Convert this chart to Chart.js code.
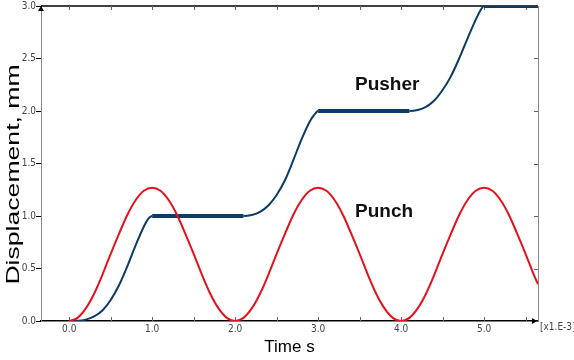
<!DOCTYPE html>
<html>
<head>
<meta charset="utf-8">
<script src="https://cdn.jsdelivr.net/npm/chart.js@4.4.1/dist/chart.umd.min.js"></script>
<style>
  html, body { margin: 0; padding: 0; background: #fff; }
  #wrap { width: 574px; height: 360px; }
</style>
</head>
<body>
<div id="wrap"><canvas id="disp-chart"></canvas></div>
<script>
// values (time in 1e-3 s, displacement in mm)
const punchTime = [0, 0.1, 0.2, 0.3, 0.4, 0.5, 0.6, 0.7, 0.8, 0.9, 1.0, 1.1, 1.2, 1.3, 1.4, 1.5, 1.6, 1.7, 1.8, 1.9,
  2.0, 2.1, 2.2, 2.3, 2.4, 2.5, 2.6, 2.7, 2.8, 2.9, 3.0, 3.1, 3.2, 3.3, 3.4, 3.5, 3.6, 3.7, 3.8, 3.9,
  4.0, 4.1, 4.2, 4.3, 4.4, 4.5, 4.6, 4.7, 4.8, 4.9, 5.0, 5.1, 5.2, 5.3, 5.4, 5.5, 5.6, 5.65];
const punchDisp = [0, 0.03, 0.12, 0.26, 0.44, 0.64, 0.83, 1.01, 1.15, 1.24, 1.27, 1.24, 1.15, 1.01, 0.83, 0.64, 0.44, 0.26, 0.12, 0.03,
  0, 0.03, 0.12, 0.26, 0.44, 0.64, 0.83, 1.01, 1.15, 1.24, 1.27, 1.24, 1.15, 1.01, 0.83, 0.64, 0.44, 0.26, 0.12, 0.03,
  0, 0.03, 0.12, 0.26, 0.44, 0.64, 0.83, 1.01, 1.15, 1.24, 1.27, 1.24, 1.15, 1.01, 0.83, 0.64, 0.44, 0.35];

const pusherTime = [0, 0.1, 0.2, 0.3, 0.4, 0.5, 0.6, 0.7, 0.8, 0.9, 0.95, 1.0,
  2.1, 2.2, 2.3, 2.4, 2.5, 2.6, 2.7, 2.8, 2.9, 2.95, 3.0,
  4.1, 4.2, 4.3, 4.4, 4.5, 4.6, 4.7, 4.8, 4.9, 4.95, 5.0, 5.65];
const pusherDisp = [0, 0.002, 0.013, 0.043, 0.1, 0.2, 0.34, 0.52, 0.72, 0.9, 0.97, 1.0,
  1.0, 1.01, 1.04, 1.1, 1.2, 1.34, 1.53, 1.73, 1.9, 1.96, 2.0,
  2.0, 2.01, 2.04, 2.1, 2.2, 2.33, 2.5, 2.69, 2.87, 2.95, 3.0, 3.0];

const yTicks = [0, 0.5, 1.0, 1.5, 2.0, 2.5, 3.0];
const xLabels = ['0.0', '1.0', '2.0', '3.0', '4.0', '5.0'];

const toXY = (xs, ys) => xs.map((x, i) => ({ x, y: ys[i] }));

// frame, inner ticks and the free text on the plot
const framePlugin = {
  id: 'frame',
  beforeDatasetsDraw(chart) {
    const { ctx, chartArea: a, scales: { x, y } } = chart;
    ctx.save();
    ctx.lineWidth = 1;
    ctx.strokeStyle = '#888';
    ctx.beginPath();
    ctx.moveTo(a.right + 0.5, a.top);
    ctx.lineTo(a.right + 0.5, a.bottom);
    ctx.stroke();
    ctx.strokeStyle = '#000';
    ctx.lineWidth = 1.5;
    ctx.beginPath();
    ctx.moveTo(a.left, a.top);
    ctx.lineTo(a.right, a.top);
    ctx.stroke();
    ctx.lineWidth = 1;
    ctx.strokeStyle = '#666';
    x.ticks.forEach(t => {
      const px = Math.round(x.getPixelForValue(t.value)) + 0.5;
      ctx.beginPath();
      ctx.moveTo(px, a.bottom);
      ctx.lineTo(px, a.bottom - 4);
      ctx.moveTo(px, a.top);
      ctx.lineTo(px, a.top + 4);
      ctx.stroke();
    });
    y.ticks.forEach(t => {
      const py = Math.round(y.getPixelForValue(t.value)) + 0.5;
      ctx.beginPath();
      ctx.moveTo(a.right, py);
      ctx.lineTo(a.right - 4, py);
      ctx.stroke();
    });
    ctx.restore();
  },
  afterDraw(chart) {
    const { ctx, chartArea: a } = chart;
    ctx.save();
    // little arrow heads on the axes
    ctx.fillStyle = '#000';
    ctx.beginPath();
    ctx.moveTo(a.right - 1, a.bottom);
    ctx.lineTo(a.right - 6, a.bottom - 3);
    ctx.lineTo(a.right - 6, a.bottom + 3);
    ctx.fill();
    ctx.beginPath();
    ctx.moveTo(a.left, a.top);
    ctx.lineTo(a.left - 3, a.top + 5);
    ctx.lineTo(a.left + 3, a.top + 5);
    ctx.fill();

    ctx.fillStyle = '#111';
    ctx.font = 'bold 19px "Liberation Sans", Arial, sans-serif';
    ctx.textBaseline = 'alphabetic';
    ctx.textAlign = 'left';
    ctx.fillText('Pusher', 355, 90);
    ctx.fillText('Punch', 355, 217);

    ctx.fillStyle = '#444';
    ctx.font = '10px "DejaVu Sans Condensed", "Liberation Sans", sans-serif';
    ctx.textBaseline = 'middle';
    ctx.fillText('[x1.E-3]', a.right + 2, a.bottom + 6);
    ctx.restore();
  }
};

// the y title in the picture is stretched along its length
function stretchTitle(s) {
  if (s._stretched) return;
  const draw = s.drawTitle.bind(s);
  s.drawTitle = () => {
    const mid = (s.top + s.bottom) / 2;
    s.ctx.save();
    s.ctx.translate(0, mid + 11);
    s.ctx.scale(1, 1.4);
    s.ctx.translate(0, -mid);
    draw();
    s.ctx.restore();
  };
  s._stretched = true;
}

const ctx = document.getElementById('disp-chart');

const data = {
  datasets: [{
    label: 'Punch',
    data: toXY(punchTime, punchDisp),
    borderColor: '#e3121b',
    borderWidth: 2,
    pointRadius: 0,
    cubicInterpolationMode: 'monotone'
  }, {
    label: 'Pusher',
    data: toXY(pusherTime, pusherDisp),
    borderColor: '#0b3b67',
    borderWidth: 2,
    pointRadius: 0,
    cubicInterpolationMode: 'monotone',
    segment: {
      borderWidth: c => (c.p0.parsed.y === c.p1.parsed.y ? 4 : 2)
    }
  }]
};

const options = {
  responsive: true,
  maintainAspectRatio: false,
  animation: false,
  devicePixelRatio: 1,
  layout: { padding: { top: 5, right: 36, left: 0, bottom: 0 } },
  plugins: { legend: { display: false }, tooltip: { enabled: false } },
  scales: {
    x: {
      type: 'linear',
      min: -0.34,
      max: 5.65,
      afterFit: s => { s.height = 39; },
      border: { display: true, color: '#000', width: 1.5 },
      grid: { drawOnChartArea: false, drawTicks: false },
      ticks: {
        stepSize: 0.5,
        includeBounds: false,
        autoSkip: false,
        maxRotation: 0,
        padding: 2,
        color: '#444',
        font: { size: 10, family: '"DejaVu Sans Condensed", "Liberation Sans", sans-serif' },
        callback: v => (Number.isInteger(v) ? xLabels[v] : '')
      },
      title: {
        display: true,
        text: 'Time s',
        color: '#000',
        font: { size: 17, family: '"Liberation Sans", Arial, sans-serif' },
        padding: { top: 0, bottom: 2 }
      }
    },
    y: {
      min: 0,
      max: 3,
      afterFit: s => { s.width = 41; stretchTitle(s); },
      afterBuildTicks: s => { s.ticks = yTicks.map(value => ({ value })); },
      border: { display: true, color: '#888', width: 1 },
      grid: { drawOnChartArea: false, drawTicks: true, tickLength: 5, tickColor: '#000' },
      ticks: {
        padding: 0,
        color: '#444',
        font: { size: 10, family: '"DejaVu Sans Condensed", "Liberation Sans", sans-serif' },
        callback: v => v.toFixed(1)
      },
      title: {
        display: true,
        text: 'Displacement, mm',
        color: '#000',
        font: { size: 19, family: '"Liberation Sans", Arial, sans-serif' },
        padding: { top: 2, bottom: 0 }
      }
    }
  }
};

const dispChart = new Chart(ctx, {
  type: 'line',
  data,
  options,
  plugins: [framePlugin]
});
</script>
</body>
</html>
